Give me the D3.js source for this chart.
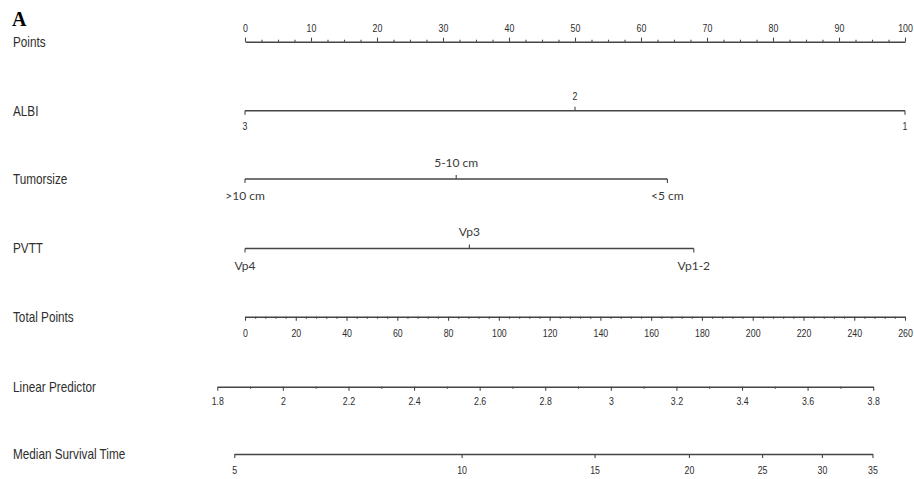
<!DOCTYPE html>
<html>
<head>
<meta charset="utf-8">
<script src="https://cdn.jsdelivr.net/npm/d3@7"></script>
<style>
  html, body { margin: 0; padding: 0; background: #fff; }
  svg { display: block; }
</style>
</head>
<body>
<svg id="chart" width="914" height="479"></svg>
<script>
// ---------------- data ----------------
const panelLabel = "A";
const rowLabels = ["Points", "ALBI", "Tumorsize", "PVTT", "Total Points", "Linear Predictor", "Median Survival Time"];

const pointsMajor = [0, 10, 20, 30, 40, 50, 60, 70, 80, 90, 100];
const pointsMinorStep = 2.5;

const albiLevels = ["3", "2", "1"];
const albiPoints = [0, 50, 100];

const tumorLevels = [">10 cm", "5-10 cm", "<5 cm"];
const tumorPoints = [0, 32, 64];

const pvttLevels = ["Vp4", "Vp3", "Vp1-2"];
const pvttPoints = [0, 34, 68];

const totalMajor = [0, 20, 40, 60, 80, 100, 120, 140, 160, 180, 200, 220, 240, 260];
const totalMinorStep = 4;

const lpMajor = [1.8, 2, 2.2, 2.4, 2.6, 2.8, 3, 3.2, 3.4, 3.6, 3.8];
const lpMinor = [1.9, 2.1, 2.3, 2.5, 2.7, 2.9, 3.1, 3.3, 3.5, 3.7];
// linear predictor at 0 and 260 total points
const lpAtTotal = [1.8845, 3.897];
// median survival time = exp(lp - survShift)
const survShift = 0.2424;
const survTicks = [5, 10, 15, 20, 25, 30, 35];

// ---------------- layout ----------------
const svg = d3.select("#chart");
const X0 = 245, X1 = 905;
const rowY = [41.7, 110.7, 179, 248.5, 316.7, 386.7, 454];
const lineColor = "#454545";
const textColor = "#2e2e2e";
const rFont = "'Liberation Sans', Arial, sans-serif";
const catFont = "Lato, 'Open Sans', sans-serif";

const pointsX = d3.scaleLinear().domain([0, 100]).range([X0, X1]);
const totalX = d3.scaleLinear().domain([0, 260]).range([X0, X1]);
const lpX = d3.scaleLinear().domain(lpAtTotal).range([X0, X1]);
const survX = d3.scaleLog()
  .domain(lpAtTotal.map(v => Math.exp(v - survShift)))
  .range([X0, X1]);

// horizontally condensed text, via transform (x given separately)
function condensed(sel, xf, f) {
  sel.attr("x", 0).attr("transform", (d, i) => `translate(${xf(d, i)},0) scale(${f},1)`);
}

// panel letter
svg.append("text")
  .attr("x", 12).attr("y", 26)
  .attr("font-family", "'Liberation Serif', 'Times New Roman', serif")
  .attr("font-weight", "bold").attr("font-size", 20)
  .attr("fill", "#000")
  .text(panelLabel);

// row labels
const rl = svg.append("g").selectAll("text").data(rowLabels).join("text")
  .attr("y", (d, i) => rowY[i] + 5)
  .attr("font-family", rFont).attr("font-size", 14)
  .attr("fill", textColor)
  .text(d => d);
condensed(rl, () => 13, 0.84);

function styleAxis(g) {
  g.selectAll("path.domain").attr("stroke", lineColor).attr("stroke-width", 1.4);
  g.selectAll(".tick line").attr("stroke", lineColor).attr("stroke-width", 1.1);
  g.selectAll(".tick text")
    .attr("font-family", rFont).attr("font-size", 11).attr("fill", textColor)
    .attr("transform", "scale(0.8,1)");
}

function numericAxis(scale, y, major, minor, orient, fmt, pad) {
  const s = scale.copy().domain([major[0], major[major.length - 1]])
    .range([scale(major[0]), scale(major[major.length - 1])]);
  const mk = orient === "top" ? d3.axisTop : d3.axisBottom;
  const g = svg.append("g").attr("transform", `translate(0,${y})`);
  g.call(mk(s).tickValues(major).tickSize(4).tickSizeOuter(0).tickPadding(pad)
    .tickFormat(fmt));
  if (minor.length) {
    const gm = svg.append("g").attr("transform", `translate(0,${y})`);
    gm.call(mk(s).tickValues(minor).tickSize(2).tickSizeOuter(0).tickFormat(""));
    gm.select("path.domain").remove();
    gm.selectAll(".tick line").attr("stroke", lineColor).attr("stroke-width", 1.1);
  }
  styleAxis(g);
  return g;
}

// Points axis (labels above)
const pMinor = d3.range(0, 100 + 1e-9, pointsMinorStep).filter(v => v % 10 !== 0);
numericAxis(pointsX, rowY[0], pointsMajor, pMinor, "top", d3.format("d"), 6);

// Categorical variable axes
function catAxis(levels, pts, y) {
  const g = svg.append("g");
  g.append("line")
    .attr("x1", pointsX(d3.min(pts))).attr("x2", pointsX(d3.max(pts)))
    .attr("y1", y).attr("y2", y)
    .attr("stroke", lineColor).attr("stroke-width", 1.4);
  const items = levels.map((l, i) => ({ label: l, p: pts[i], up: i > 0 && i < levels.length - 1 }));
  g.selectAll("line.tk").data(items).join("line").attr("class", "tk")
    .attr("x1", d => pointsX(d.p)).attr("x2", d => pointsX(d.p))
    .attr("y1", y).attr("y2", d => d.up ? y - 4 : y + 4)
    .attr("stroke", lineColor).attr("stroke-width", 1.1);
  return { g, items };
}

// ALBI uses R-style numeric labels
{
  const { g, items } = catAxis(albiLevels, albiPoints, rowY[1]);
  const t = g.selectAll("text").data(items).join("text")
    .attr("y", d => d.up ? rowY[1] - 10.5 : rowY[1] + 19.5)
    .attr("text-anchor", "middle")
    .attr("font-family", rFont).attr("font-size", 11).attr("fill", textColor)
    .text(d => d.label);
  condensed(t, d => pointsX(d.p), 0.8);
}
// Tumorsize & PVTT with overlaid category text
[[tumorLevels, tumorPoints, rowY[2]], [pvttLevels, pvttPoints, rowY[3]]].forEach(([lv, pt, y]) => {
  const { g, items } = catAxis(lv, pt, y);
  g.selectAll("text").data(items).join("text")
    .attr("x", d => pointsX(d.p))
    .attr("y", d => d.up ? y - 12.5 : y + 21)
    .attr("text-anchor", "middle")
    .attr("font-family", catFont).attr("font-size", 12).attr("fill", "#3a3a3a")
    .text(d => d.label);
});

// Total Points
const tMinor = d3.range(0, 260 + 1e-9, totalMinorStep).filter(v => v % 20 !== 0);
numericAxis(totalX, rowY[4], totalMajor, tMinor, "bottom", d3.format("d"), 8);

// Linear Predictor
numericAxis(lpX, rowY[5], lpMajor, lpMinor, "bottom", d => d3.format("~g")(d), 6);

// Median Survival Time
{
  const g = svg.append("g").attr("transform", `translate(0,${rowY[6]})`);
  const s = survX.copy().domain([survTicks[0], survTicks[survTicks.length - 1]])
    .range([survX(survTicks[0]), survX(survTicks[survTicks.length - 1])]);
  g.call(d3.axisBottom(s).tickValues(survTicks).tickSize(4).tickSizeOuter(0)
    .tickPadding(8).tickFormat(d3.format("d")));
  styleAxis(g);
}
</script>
</body>
</html>
